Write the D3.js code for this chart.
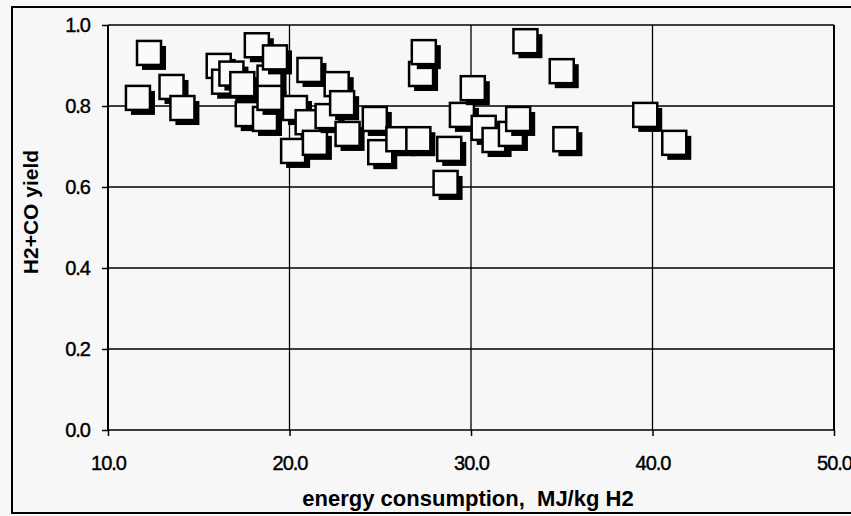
<!DOCTYPE html>
<html>
<head>
<meta charset="utf-8">
<script src="https://cdn.jsdelivr.net/npm/d3@7"></script>
<style>
  body { margin: 0; background: #f7f7f7; }
  text { font-family: "Liberation Sans", Arial, sans-serif; fill: #000; }
</style>
</head>
<body>
<svg id="chart" width="851" height="516"></svg>
<script>
// energy consumption (MJ/kg H2) and H2+CO yield
const energy = [11.65, 12.26, 13.5, 14.1, 16.1, 16.4, 16.8, 17.4, 17.7, 18.2,
    18.65, 18.9, 18.9, 19.2, 20.2, 20.3, 21.1, 21.0, 21.4, 22.1,
    22.6, 22.9, 23.2, 24.7, 25.0, 26.0, 27.1, 27.25, 27.4, 28.6,
    28.8, 29.5, 30.1, 30.7, 31.3, 32.2, 32.6, 33.0, 35.0, 35.2,
    39.6, 41.2]
const yieldVals = [0.82, 0.931, 0.847, 0.795, 0.899, 0.86, 0.88, 0.854, 0.78, 0.95,
    0.768, 0.87, 0.82, 0.92, 0.689, 0.795, 0.889, 0.76, 0.709, 0.775,
    0.854, 0.807, 0.731, 0.768, 0.686, 0.718, 0.718, 0.879, 0.933, 0.61,
    0.694, 0.778, 0.844, 0.746, 0.716, 0.731, 0.768, 0.96, 0.886, 0.718,
    0.778, 0.709]
const xTicks = [10, 20, 30, 40, 50]
const yTicks = [0, 0.2, 0.4, 0.6, 0.8, 1.0]

const svg = d3.select('#chart')
const pLeft = 108, pRight = 834, pTop = 25, pBottom = 430

const x = d3.scaleLinear().domain([10, 50]).range([pLeft, pRight])
const y = d3.scaleLinear().domain([0, 1]).range([pBottom, pTop])

// outer frame
svg.append('rect')
    .attr('x', 12).attr('y', 7).attr('width', 845).attr('height', 506)
    .attr('fill', 'none').attr('stroke', '#000').attr('stroke-width', 2)

// grid
svg.append('g').selectAll('line').data(yTicks).join('line')
    .attr('x1', pLeft).attr('x2', pRight)
    .attr('y1', d => y(d)).attr('y2', d => y(d))
    .attr('stroke', '#000').attr('stroke-width', 1.3)
svg.append('g').selectAll('line').data(xTicks).join('line')
    .attr('x1', d => x(d)).attr('x2', d => x(d))
    .attr('y1', pTop).attr('y2', pBottom)
    .attr('stroke', '#000').attr('stroke-width', d => (d === 10 || d === 50) ? 2 : 1.3)

// axes
const yAxis = svg.append('g')
    .attr('transform', `translate(${pLeft},0)`)
    .call(d3.axisLeft(y).tickValues(yTicks).tickFormat(d3.format('.1f')).tickSize(6).tickPadding(12))
const xAxis = svg.append('g')
    .attr('transform', `translate(0,${pBottom})`)
    .call(d3.axisBottom(x).tickValues(xTicks).tickFormat(d3.format('.1f')).tickSize(6).tickPadding(20))
;[yAxis, xAxis].forEach(a => {
    a.select('.domain').remove()
    a.selectAll('line').attr('stroke', '#000').attr('stroke-width', 1.5)
    a.selectAll('text').style('font-size', '20px').style('letter-spacing', '-1px')
        .attr('fill', '#000').attr('stroke', '#000').attr('stroke-width', 0.4)
})

// markers: shadow then white square, one point at a time
const size = 24, shadow = 5
const pts = svg.append('g').selectAll('g').data(energy.map((e, i) => [e, yieldVals[i]])).join('g')
    .attr('transform', d => `translate(${x(d[0])},${y(d[1])})`)
pts.append('rect')
    .attr('x', -size / 2 + shadow).attr('y', -size / 2 + shadow)
    .attr('width', size).attr('height', size)
    .attr('fill', '#000')
pts.append('rect')
    .attr('x', -size / 2).attr('y', -size / 2)
    .attr('width', size).attr('height', size)
    .attr('fill', '#fafafa').attr('stroke', '#000').attr('stroke-width', 2.5)

// titles
svg.append('text')
    .attr('x', 468).attr('y', 506)
    .attr('text-anchor', 'middle')
    .style('font-size', '22px').style('font-weight', 'bold').style('white-space', 'pre')
    .text('energy consumption,  MJ/kg H2')
svg.append('text')
    .attr('transform', 'translate(38,212) rotate(-90)')
    .attr('text-anchor', 'middle')
    .style('font-size', '21px').style('font-weight', 'bold')
    .text('H2+CO yield')
</script>
</body>
</html>
